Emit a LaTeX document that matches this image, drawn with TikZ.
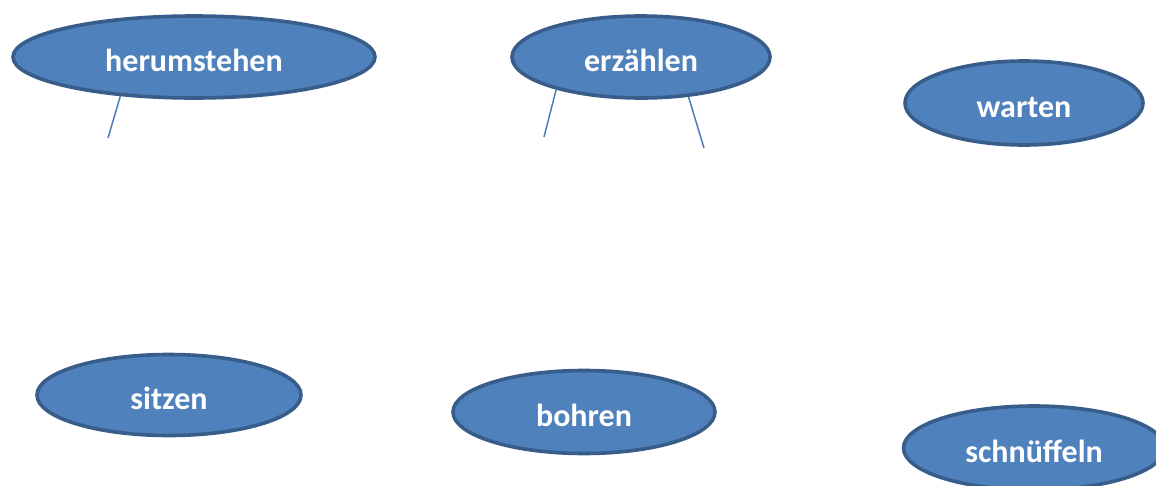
\documentclass[tikz,border=0pt]{standalone}
\usepackage{fontspec}
\setmainfont{Carlito}
\usetikzlibrary{shapes.geometric}
\definecolor{bubblefill}{HTML}{4F81BD}
\definecolor{bubbleedge}{HTML}{385D8A}
\definecolor{linkblue}{HTML}{4A7EBB}
\tikzset{
  bubble/.style={ellipse, draw=bubbleedge, fill=bubblefill, line width=3.6pt,
    inner sep=0pt, text=white, font=\fontsize{32}{38}\selectfont\bfseries,
    text height=28pt, text depth=0pt},
  link/.style={draw=linkblue, line width=1.5pt}
}
\begin{document}
\begin{tikzpicture}[x=1pt,y=-1pt]
  \useasboundingbox (0,0) rectangle (1156,485);
  \clip (0,0) rectangle (1156,485);
  \fill[white] (0,0) rectangle (1156,485);

  % word bubbles
  \node[bubble, minimum width=362pt, minimum height=82pt] (h) at (194,57) {herumstehen};
  \node[bubble, minimum width=258pt, minimum height=82pt] (e) at (641,57) {erzählen};
  \node[bubble, minimum width=238pt, minimum height=84pt] (w) at (1024,103) {warten};
  \node[bubble, minimum width=264pt, minimum height=81pt] (s) at (169,395) {sitzen};
  \node[bubble, minimum width=262pt, minimum height=83pt] (b) at (584,412) {bohren};
  \node[bubble, minimum width=261pt, minimum height=84pt] (n) at (1034,448) {schnüffeln};

  % loose connector ends
  \coordinate (h1) at (108,138);
  \coordinate (e1) at (544,137);
  \coordinate (e2) at (704,148);

  % connectors
  \draw[link] (h.208) -- (h1);
  \draw[link] (e.201) -- (e1);
  \draw[link] (e.320) -- (e2);
\end{tikzpicture}
\end{document}
